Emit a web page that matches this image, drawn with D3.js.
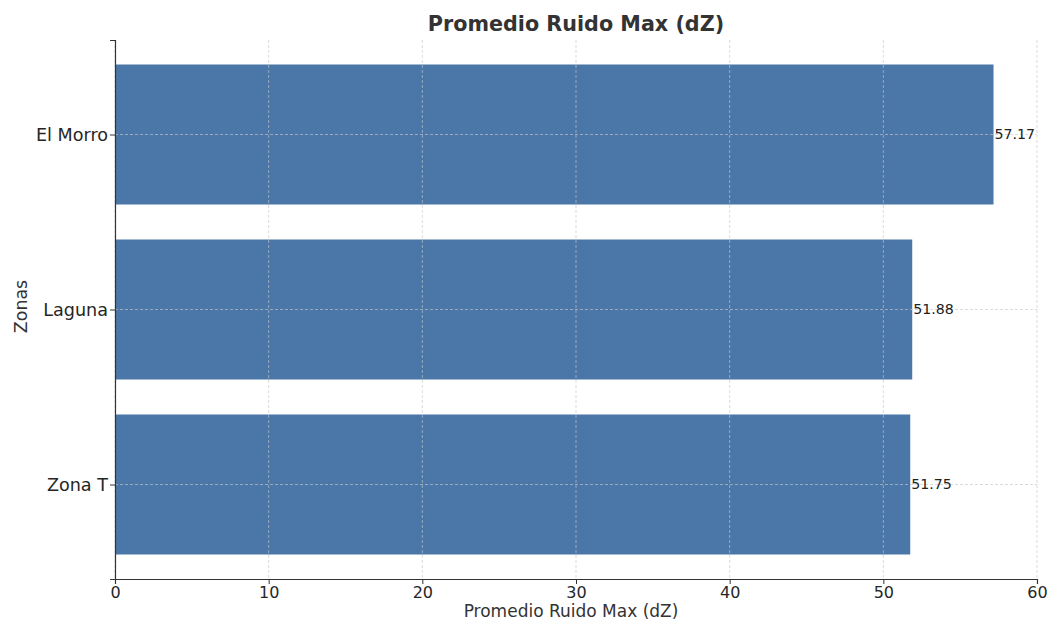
<!DOCTYPE html>
<html>
<head>
<meta charset="utf-8">
<script src="https://cdn.jsdelivr.net/npm/d3@7"></script>
<style>
  body { margin: 0; background: #fff; }
  svg { display: block; font-family: "DejaVu Sans", sans-serif; }
</style>
</head>
<body>
<svg id="chart" width="1053" height="625"></svg>
<script>
// Average maximum noise per zone
const zones = ["Zona T", "Laguna", "El Morro"];
const values = [51.75, 51.88, 57.17];
const xTicks = [0, 10, 20, 30, 40, 50, 60];

const W = 1053, H = 625;
const margin = { top: 40, right: 16, bottom: 46, left: 115 };
const iw = 1037 - margin.left, ih = 579 - margin.top;

const svg = d3.select("#chart");
const g = svg.append("g").attr("transform", `translate(${margin.left},${margin.top})`);

const x = d3.scaleLinear().domain([0, 60]).range([0, iw]);
// categorical positions with padding around bars of height 0.8
const y = d3.scaleLinear().domain([-0.54, 2.54]).range([ih, 0]);
const barH = y(0) - y(0.8);

// bars
g.selectAll("rect.bar").data(values).join("rect")
  .attr("class", "bar")
  .attr("x", x(0))
  .attr("y", (d, i) => y(i + 0.4))
  .attr("width", d => x(d) - x(0))
  .attr("height", barH)
  .attr("fill", "#4a76a8");

// dashed grid on top of bars
const grid = g.append("g").attr("stroke", "#c8c8c8").attr("stroke-width", 0.8)
  .attr("stroke-dasharray", "3,2").attr("opacity", 0.8);
grid.selectAll("line.vx").data(xTicks).join("line")
  .attr("x1", d => x(d)).attr("x2", d => x(d)).attr("y1", 0).attr("y2", ih);
grid.selectAll("line.hy").data(zones).join("line")
  .attr("x1", 0).attr("x2", iw).attr("y1", (d, i) => y(i)).attr("y2", (d, i) => y(i));

// value labels
g.selectAll("text.val").data(values).join("text")
  .attr("x", d => x(d) + 1)
  .attr("y", (d, i) => y(i))
  .attr("dy", "0.35em")
  .attr("font-size", 14.2)
  .attr("fill", "#222")
  .text(d => d.toFixed(2));

// x axis
const xAxis = g.append("g").attr("transform", `translate(0,${ih})`)
  .call(d3.axisBottom(x).tickValues(xTicks).tickSize(5).tickPadding(3).tickFormat(d3.format("d")));
xAxis.select(".domain").attr("stroke", "#333").attr("stroke-width", 1.2);
xAxis.selectAll(".tick line").attr("stroke", "#333");
xAxis.selectAll("text").attr("font-size", 16).attr("fill", "#262626").attr("font-family", "DejaVu Sans");

// y axis
const yAxis = g.append("g")
  .call(d3.axisLeft(y).tickValues([0, 1, 2]).tickSize(5).tickPadding(2).tickFormat(i => zones[i]));
yAxis.select(".domain").attr("stroke", "#333").attr("stroke-width", 1.2);
yAxis.selectAll(".tick line").attr("stroke", "#333");
yAxis.selectAll("text").attr("font-size", 17.6).attr("fill", "#262626").attr("font-family", "DejaVu Sans");

// titles
svg.append("text")
  .attr("x", margin.left + iw / 2).attr("y", 31)
  .attr("text-anchor", "middle")
  .attr("font-size", 20.7).attr("font-weight", "bold").attr("fill", "#333")
  .text("Promedio Ruido Max (dZ)");

svg.append("text")
  .attr("x", margin.left + iw / 2 - 5).attr("y", 617)
  .attr("text-anchor", "middle")
  .attr("font-size", 17).attr("fill", "#333")
  .text("Promedio Ruido Max (dZ)");

svg.append("text")
  .attr("transform", `translate(27,${margin.top + ih / 2 - 3}) rotate(-90)`)
  .attr("text-anchor", "middle")
  .attr("font-size", 17.4).attr("fill", "#333")
  .text("Zonas");
</script>
</body>
</html>
